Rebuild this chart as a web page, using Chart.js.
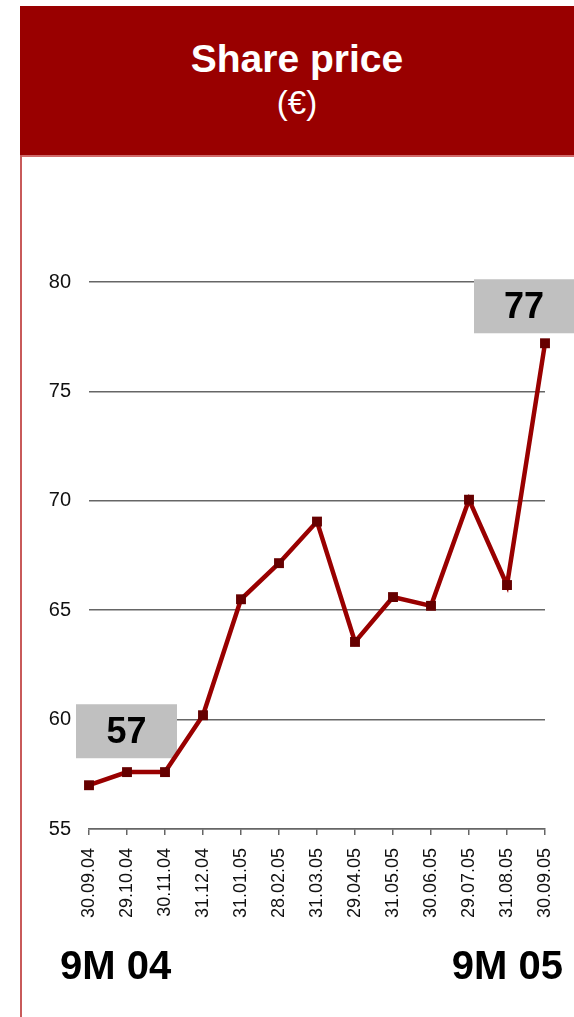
<!DOCTYPE html>
<html>
<head>
<meta charset="utf-8">
<script src="https://cdn.jsdelivr.net/npm/chart.js@4/dist/chart.umd.min.js"></script>
<style>
  html, body { margin: 0; padding: 0; background: #ffffff; }
  body { width: 574px; height: 1017px; position: relative; overflow: hidden;
         font-family: "Liberation Sans", Arial, Helvetica, sans-serif; }
  #header { position: absolute; left: 20px; top: 6px; width: 554px; height: 149px;
            background: #990000; color: #ffffff; text-align: center; }
  #title { position: absolute; left: 0; right: 0; top: 30px; font-size: 39px; font-weight: bold; line-height: 46px; }
  #unit { position: absolute; left: 0; right: 0; top: 77px; font-size: 33px; line-height: 40px; }
  #hline { position: absolute; left: 20px; top: 155px; width: 554px; height: 2px; background: #d06a6a; }
  #vline { position: absolute; left: 20px; top: 155px; width: 2px; height: 862px; background: #c85a5a; }
  #chart { position: absolute; left: 0; top: 0; }
  .period { position: absolute; top: 942px; font-size: 40px; font-weight: bold; color: #000; line-height: 46px; }
</style>
</head>
<body>
<div id="header">
  <div id="title">Share price</div>
  <div id="unit">(€)</div>
</div>
<div id="hline"></div>
<div id="vline"></div>
<canvas id="chart" width="574" height="1017"></canvas>
<div class="period" style="left:60px;">9M 04</div>
<div class="period" style="right:11px;">9M 05</div>
<script>
// Month-end closing dates
const dates = ['30.09.04', '29.10.04', '30.11.04', '31.12.04', '31.01.05', '28.02.05',
               '31.03.05', '29.04.05', '31.05.05', '30.06.05', '29.07.05', '31.08.05', '30.09.05'];
// Closing share price in euros
const prices = [57.0, 57.6, 57.6, 60.2, 65.5, 67.15, 69.05, 63.55, 65.6, 65.2, 70.05, 66.15, 77.2];
// Y axis range and step
const yMin = 55, yMax = 80, yStep = 5;
// Points carrying a value callout
const calloutIndexes = [0, prices.length - 1];

// Grey boxes with the rounded price at the start and end of the period
const calloutPlugin = {
  id: 'callouts',
  beforeDatasetsDraw(chart) {
    const ctx = chart.ctx;
    const meta = chart.getDatasetMeta(0);
    const boxes = [
      { i: calloutIndexes[0], dx: 37.5, dy: -54, w: 101, h: 54 },
      { i: calloutIndexes[1], dx: -21, dy: -37, w: 100, h: 54 }
    ];
    ctx.save();
    boxes.forEach(b => {
      const p = meta.data[b.i];
      const cx = p.x + b.dx, cy = p.y + b.dy;
      ctx.fillStyle = '#c0c0c0';
      ctx.fillRect(cx - b.w / 2, cy - b.h / 2, b.w, b.h);
      ctx.fillStyle = '#000000';
      ctx.font = 'bold 36px "Liberation Sans", Arial, sans-serif';
      ctx.textAlign = 'center';
      ctx.textBaseline = 'middle';
      ctx.fillText(String(Math.round(prices[b.i])), cx, cy + 2);
    });
    ctx.restore();
  }
};

new Chart(document.getElementById('chart'), {
  type: 'line',
  data: {
    labels: dates,
    datasets: [{
      data: prices,
      borderColor: '#990000',
      borderWidth: 4.5,
      tension: 0,
      pointStyle: 'rect',
      pointRadius: 7,
      pointBorderWidth: 0,
      pointBackgroundColor: '#660000',
      pointBorderColor: '#660000'
    }]
  },
  options: {
    responsive: false,
    devicePixelRatio: 1,
    animation: false,
    layout: { autoPadding: false, padding: { left: 0, top: 282, right: 29, bottom: 0 } },
    plugins: { legend: { display: false }, tooltip: { enabled: false } },
    scales: {
      x: {
        offset: false,
        afterFit(scale) {
          scale.height = 188;
          scale.paddingLeft = 0;
          scale.paddingRight = 0;
        },
        grid: { display: true, drawOnChartArea: false, drawTicks: true, tickLength: 6, color: '#666666', lineWidth: 1.5 },
        border: { display: true, color: '#666666', width: 1.5 },
        ticks: {
          minRotation: 90, maxRotation: 90, autoSkip: false, padding: 13,
          color: '#111111',
          font: { family: '"Liberation Sans", Arial, sans-serif', size: 18 }
        }
      },
      y: {
        min: yMin, max: yMax,
        afterFit(scale) { scale.width = 89; },
        grid: { color: '#666666', lineWidth: 1.5, drawTicks: false },
        border: { display: false },
        ticks: {
          stepSize: yStep, padding: 18, color: '#111111',
          font: { family: '"Liberation Sans", Arial, sans-serif', size: 20 }
        }
      }
    }
  },
  plugins: [calloutPlugin]
});
</script>
</body>
</html>
